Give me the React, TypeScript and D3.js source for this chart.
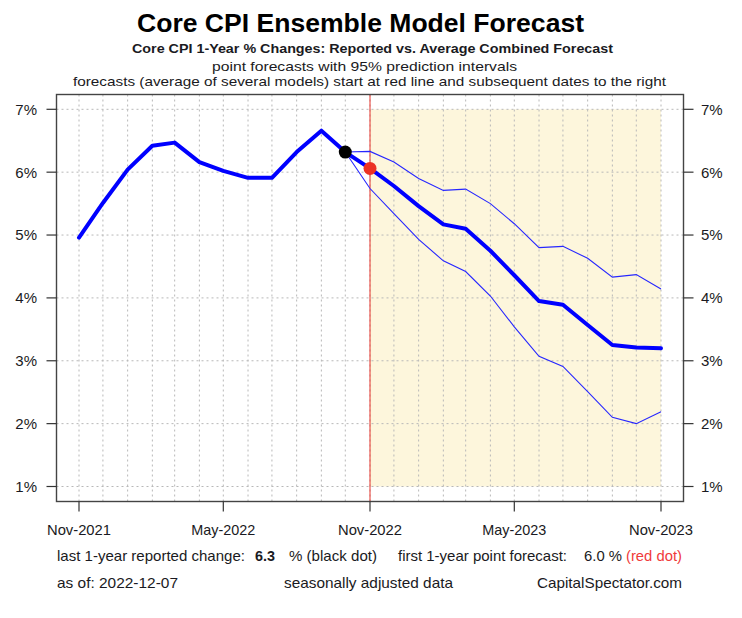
import React from "react";
import * as d3 from "d3";

// ---- data ----
const months = [
  "2021-11", "2021-12", "2022-01", "2022-02", "2022-03", "2022-04", "2022-05",
  "2022-06", "2022-07", "2022-08", "2022-09", "2022-10", "2022-11", "2022-12",
  "2023-01", "2023-02", "2023-03", "2023-04", "2023-05", "2023-06", "2023-07",
  "2023-08", "2023-09", "2023-10", "2023-11",
];
// reported core CPI y/y % (Nov-2021 .. Oct-2022)
const reported = [4.96, 5.51, 6.04, 6.42, 6.47, 6.16, 6.02, 5.91, 5.91, 6.32, 6.66, 6.32];
// average combined forecast (Nov-2022 .. Nov-2023)
const forecast = [6.06, 5.78, 5.46, 5.17, 5.1, 4.75, 4.36, 3.95, 3.89, 3.57, 3.25, 3.21, 3.2];
const upper95 = [6.33, 6.16, 5.9, 5.71, 5.73, 5.5, 5.18, 4.8, 4.82, 4.63, 4.33, 4.37, 4.14];
const lower95 = [5.74, 5.34, 4.93, 4.59, 4.42, 4.03, 3.54, 3.07, 2.91, 2.51, 2.1, 2.0, 2.19];
const xTickMonths = ["2021-11", "2022-05", "2022-11", "2023-05", "2023-11"];
const xTickLabels = ["Nov-2021", "May-2022", "Nov-2022", "May-2023", "Nov-2023"];
const yTicks = [1, 2, 3, 4, 5, 6, 7];
const lastReported = "6.3";
const firstForecast = "6.0";
const asOf = "2022-12-07";

const parse = (s: string) => {
  const [y, m] = s.split("-").map(Number);
  return new Date(y, m - 1, 1);
};

export default function App() {
  const W = 742, H = 618;
  const box = { left: 56.5, right: 683.5, top: 94.5, bottom: 501.5 };
  const dates = months.map(parse);
  const x = d3.scaleTime().domain([dates[0], dates[dates.length - 1]]).range([79, 661]);
  const y = d3.scaleLinear().domain([1, 7]).range([486.5, 109.3]);

  const nRep = reported.length;
  const histPts: [Date, number][] = reported.map((v, i) => [dates[i], v]);
  const fcPts: [Date, number][] = forecast.map((v, i) => [dates[nRep + i], v]);
  const mainPts = [...histPts, ...fcPts];
  const anchor: [Date, number] = histPts[nRep - 1];
  const upPts: [Date, number][] = [anchor, ...upper95.map((v, i) => [dates[nRep + i], v] as [Date, number])];
  const loPts: [Date, number][] = [anchor, ...lower95.map((v, i) => [dates[nRep + i], v] as [Date, number])];

  const line = d3.line<[Date, number]>().x((d) => x(d[0])).y((d) => y(d[1]));

  const fcStart = dates[nRep];
  const fcEnd = dates[dates.length - 1];
  const font = "'Liberation Sans', Arial, sans-serif";
  const grid = { stroke: "#b8b8b8", strokeWidth: 1, strokeDasharray: "2,3" };
  const txt = "#1a1a22";

  return (
    <svg width={W} height={H} style={{ position: "absolute", left: 0, top: 0, background: "#fff" }} fontFamily={font}>
      <rect x={0} y={0} width={W} height={H} fill="#fff" />
      {/* titles */}
      <text x={360.5} y={32} textAnchor="middle" fontSize={25} fontWeight="bold" fill="#000" textLength={447} lengthAdjust="spacingAndGlyphs">
        Core CPI Ensemble Model Forecast
      </text>
      <text x={372.5} y={52.7} textAnchor="middle" fontSize={13} fontWeight="bold" fill={txt} textLength={481} lengthAdjust="spacingAndGlyphs">
        Core CPI 1-Year % Changes: Reported vs. Average Combined Forecast
      </text>
      <text x={364.5} y={71} textAnchor="middle" fontSize={13.5} fill={txt} textLength={305} lengthAdjust="spacingAndGlyphs">
        point forecasts with 95% prediction intervals
      </text>
      <text x={369.5} y={85.5} textAnchor="middle" fontSize={13.5} fill={txt} textLength={593} lengthAdjust="spacingAndGlyphs">
        forecasts (average of several models) start at red line and subsequent dates to the right
      </text>

      {/* forecast shading */}
      <rect x={x(fcStart)} y={y(7)} width={x(fcEnd) - x(fcStart)} height={y(1) - y(7)} fill="#fdf6dc" />

      {/* grid */}
      {dates.map((d, i) => (
        <line key={"gv" + i} x1={x(d)} x2={x(d)} y1={box.top} y2={box.bottom} {...grid} />
      ))}
      {yTicks.map((t) => (
        <line key={"gh" + t} x1={box.left} x2={box.right} y1={y(t)} y2={y(t)} {...grid} />
      ))}

      {/* forecast start line */}
      <line x1={x(fcStart)} x2={x(fcStart)} y1={box.top} y2={box.bottom} stroke="#e8342c" strokeWidth={1} />

      {/* prediction intervals */}
      <path d={line(upPts) || ""} fill="none" stroke="#2626ff" strokeWidth={1.1} />
      <path d={line(loPts) || ""} fill="none" stroke="#2626ff" strokeWidth={1.1} />

      {/* main line */}
      <path d={line(mainPts) || ""} fill="none" stroke="#0000ff" strokeWidth={4} strokeLinejoin="round" strokeLinecap="round" />

      {/* dots */}
      <circle cx={x(anchor[0])} cy={y(anchor[1])} r={6.5} fill="#000" />
      <circle cx={x(fcPts[0][0])} cy={y(fcPts[0][1])} r={6.5} fill="#ec3224" />

      {/* box */}
      <rect x={box.left} y={box.top} width={box.right - box.left} height={box.bottom - box.top} fill="none" stroke="#444" strokeWidth={1.4} />

      {/* y axes */}
      {yTicks.map((t) => (
        <g key={"yt" + t}>
          <line x1={box.left - 10} x2={box.left} y1={y(t)} y2={y(t)} stroke="#333" strokeWidth={1.2} />
          <line x1={box.right} x2={box.right + 10} y1={y(t)} y2={y(t)} stroke="#333" strokeWidth={1.2} />
          <text x={37} y={y(t)} dy="0.36em" textAnchor="end" fontSize={15} fill={txt}>{t}%</text>
          <text x={701} y={y(t)} dy="0.36em" textAnchor="start" fontSize={15} fill={txt}>{t}%</text>
        </g>
      ))}

      {/* x axis */}
      {xTickMonths.map((m, i) => {
        const xx = x(parse(m));
        return (
          <g key={"xt" + m}>
            <line x1={xx} x2={xx} y1={box.bottom} y2={box.bottom + 10} stroke="#333" strokeWidth={1.2} />
            <text x={xx} y={535} textAnchor="middle" fontSize={15} fill={txt} textLength={64} lengthAdjust="spacingAndGlyphs">{xTickLabels[i]}</text>
          </g>
        );
      })}

      {/* footer */}
      <text x={57} y={561} fontSize={15} fill={txt} textLength={188} lengthAdjust="spacingAndGlyphs">last 1-year reported change:</text>
      <text x={255} y={561} fontSize={15} fontWeight="bold" fill={txt} textLength={20} lengthAdjust="spacingAndGlyphs">{lastReported}</text>
      <text x={289} y={561} fontSize={15} fill={txt} textLength={88} lengthAdjust="spacingAndGlyphs">% (black dot)</text>
      <text x={398} y={561} fontSize={15} fill={txt} textLength={169} lengthAdjust="spacingAndGlyphs">first 1-year point forecast:</text>
      <text x={584} y={561} fontSize={15} fill={txt} textLength={38} lengthAdjust="spacingAndGlyphs">{firstForecast} %</text>
      <text x={626} y={561} fontSize={15} fill="#f03a3a" textLength={56} lengthAdjust="spacingAndGlyphs">(red dot)</text>

      <text x={57} y={588} fontSize={15} fill={txt} textLength={121} lengthAdjust="spacingAndGlyphs">as of: {asOf}</text>
      <text x={284} y={588} fontSize={15} fill={txt} textLength={169} lengthAdjust="spacingAndGlyphs">seasonally adjusted data</text>
      <text x={537} y={588} fontSize={15} fill={txt} textLength={145} lengthAdjust="spacingAndGlyphs">CapitalSpectator.com</text>
    </svg>
  );
}
